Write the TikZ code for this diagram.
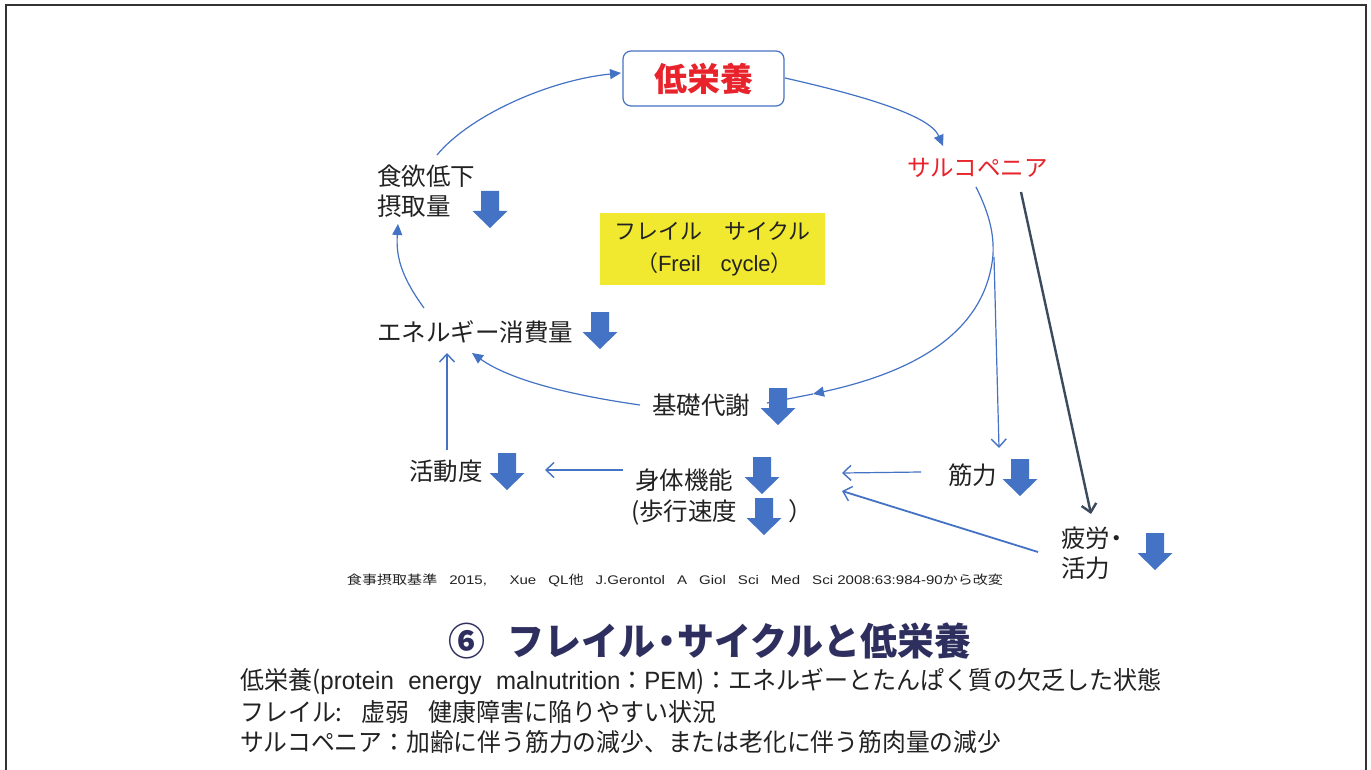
\documentclass[tikz,border=0pt]{standalone}
\usepackage{fontspec}
\setmainfont{Noto Sans CJK JP}
\newfontfamily\lat{Liberation Sans}
\usepackage{graphicx}
\usetikzlibrary{arrows.meta}
\definecolor{lineblue}{HTML}{4472C4}
\definecolor{blockblue}{HTML}{4472C4}
\definecolor{redtxt}{HTML}{E8232B}
\definecolor{navy}{HTML}{2E2F5E}
\definecolor{slate}{HTML}{3B4A5C}
\definecolor{yel}{HTML}{F0E930}
\definecolor{txt}{HTML}{222222}
\begin{document}
\begin{tikzpicture}[x=1pt,y=-1pt,
  lbl/.style={inner sep=0pt, text=txt, font=\fontsize{24.5}{30}\selectfont},
  conn/.style={draw=lineblue, line width=1.2pt},
  tri/.style={conn, -{Triangle[length=11pt,width=10pt]}},
  open/.style={conn, -{Straight Barb[length=8pt,width=15pt,line width=1.4pt]}},
  downarr/.pic={\fill[blockblue] (-9,0) -- (9,0) -- (9,20) -- (17.5,20) -- (0,37) -- (-17.5,20) -- (-9,20) -- cycle;}
]
\useasboundingbox (0,0) rectangle (1371,770);
\fill[white] (0,0) rectangle (1371,770);
\draw[line width=2pt, black!80] (6,770) -- (6,5) -- (1366,5) -- (1366,770);

% nodes
\node[draw=lineblue, line width=1.2pt, rounded corners=8pt, minimum width=161pt, minimum height=55pt, inner sep=0pt, text=redtxt, font=\fontsize{33}{40}\selectfont\bfseries] (teiei) at (703.5,78.5) {低栄養};
\node[anchor=west, inner sep=0pt, text=redtxt, font=\fontsize{23.5}{28}\selectfont] (sarco) at (907,168) {サルコペニア};
\node[lbl, anchor=west] (shoku) at (377,176) {食欲低下};
\node[lbl, anchor=west] (sesshu) at (377,206) {摂取量};
\node[lbl, anchor=west] (energy) at (377,332) {エネルギー消費量};
\node[lbl, anchor=west] (kiso) at (652,405) {基礎代謝};
\node[lbl, anchor=west] (katsudo) at (409,471) {活動度};
\node[lbl, anchor=west] (shintai) at (635,480) {身体機能};
\node[lbl, anchor=west] (hoko) at (631,512) {(歩行速度\hspace*{51pt}）};
\node[lbl, anchor=west] (kin) at (948,475) {筋力};
\node[lbl, anchor=west, align=left] (hiro) at (1061,553) {疲労\kern-0.25em・\\活力};
\node[fill=yel, minimum width=225pt, minimum height=72pt, inner sep=0pt, align=left, text=txt, font=\fontsize{22}{32}\selectfont] (cycle) at (712.5,249) {フレイル　サイクル\\　（{\lat Freil\hspace{0.9em}cycle}）};

% block arrows
\pic at (490,191) {downarr};
\pic at (600,312) {downarr};
\pic at (778,388) {downarr};
\pic at (507,453) {downarr};
\pic at (762,457) {downarr};
\pic at (764,498) {downarr};
\pic at (1020,459) {downarr};
\pic at (1155,533) {downarr};

% connectors
\coordinate (a1s) at (437,155); \coordinate (a1e) at (621,73);
\draw[tri] (a1s) .. controls (470,115) and (550,80) .. (a1e);
\coordinate (b1s) at (785,78); \coordinate (b1e) at (943,146);
\draw[tri] (b1s) .. controls (860,95) and (930,115) .. (b1e);
\coordinate (c1s) at (976,187); \coordinate (c1m) at (993,255);
\coordinate (c1e) at (813,394); \coordinate (c1f) at (767,403);
\draw[tri] (c1s) .. controls (990,215) and (994,235) .. (c1m) .. controls (985,340) and (900,375) .. (c1e);
\draw[conn] (c1e) -- (c1f);
\coordinate (d1s) at (640,405); \coordinate (d1e) at (472,353);
\draw[tri] (d1s) .. controls (570,395) and (510,380) .. (d1e);
\coordinate (e1s) at (424,308); \coordinate (e1e) at (398,224);
\draw[tri] (e1s) .. controls (400,275) and (396,255) .. (e1e);
\coordinate (f1s) at (447,450); \coordinate (f1e) at (447,353);
\draw[open] (f1s) -- (f1e);
\coordinate (g1s) at (623,470); \coordinate (g1e) at (545,470);
\draw[open] (g1s) -- (g1e);
\coordinate (h1s) at (921,472); \coordinate (h1e) at (842,473);
\draw[open] (h1s) -- (h1e);
\coordinate (i1s) at (1038,552); \coordinate (i1e) at (842,491);
\draw[open, line width=1.8pt] (i1s) -- (i1e);
\coordinate (j1s) at (994,257); \coordinate (j1e) at (999,448);
\draw[open] (j1s) -- (j1e);
\coordinate (k1s) at (1021,192); \coordinate (k1e) at (1091,514);
\draw[draw=slate, line width=2.4pt, -{Straight Barb[length=8pt,width=15pt]}] (k1s) -- (k1e);

% texts at bottom
\node[inner sep=0pt, text=txt, font=\fontsize{12.5}{15}\selectfont] (ref) at (675,580) {\resizebox{656pt}{\height}{食事摂取基準\hspace{0.8em}{\lat 2015,\hspace{1.5em}Xue\hspace{0.8em}QL}他\hspace{0.8em}{\lat J.Gerontol\hspace{0.8em}A\hspace{0.8em}Giol\hspace{0.8em}Sci\hspace{0.8em}Med\hspace{0.8em}Sci 2008:63:984-90}から改変}};
\node[inner sep=0pt, text=navy, font=\fontsize{38}{44}\selectfont\bfseries] (title) at (710,641) {\resizebox{523pt}{\height}{⑥\hspace{0.6em}フレイル\kern-0.2em・\kern-0.2emサイクルと低栄養}};
\node[anchor=west, inner sep=0pt, text=txt, font=\fontsize{25}{30}\selectfont] (def1) at (240,681) {\resizebox{921pt}{\height}{低栄養({\lat protein\hspace{0.6em}energy\hspace{0.6em}malnutrition}：{\lat PEM})：エネルギーとたんぱく質の欠乏した状態}};
\node[anchor=west, inner sep=0pt, text=txt, font=\fontsize{25}{30}\selectfont] (def2) at (240,712) {\resizebox{476pt}{\height}{フレイル:\hspace{0.8em}虚弱\hspace{0.8em}健康障害に陥りやすい状況}};
\node[anchor=west, inner sep=0pt, text=txt, font=\fontsize{25}{30}\selectfont] (def3) at (240,742) {\resizebox{761pt}{\height}{サルコペニア：加齢に伴う筋力の減少、または老化に伴う筋肉量の減少}};
\end{tikzpicture}
\end{document}
